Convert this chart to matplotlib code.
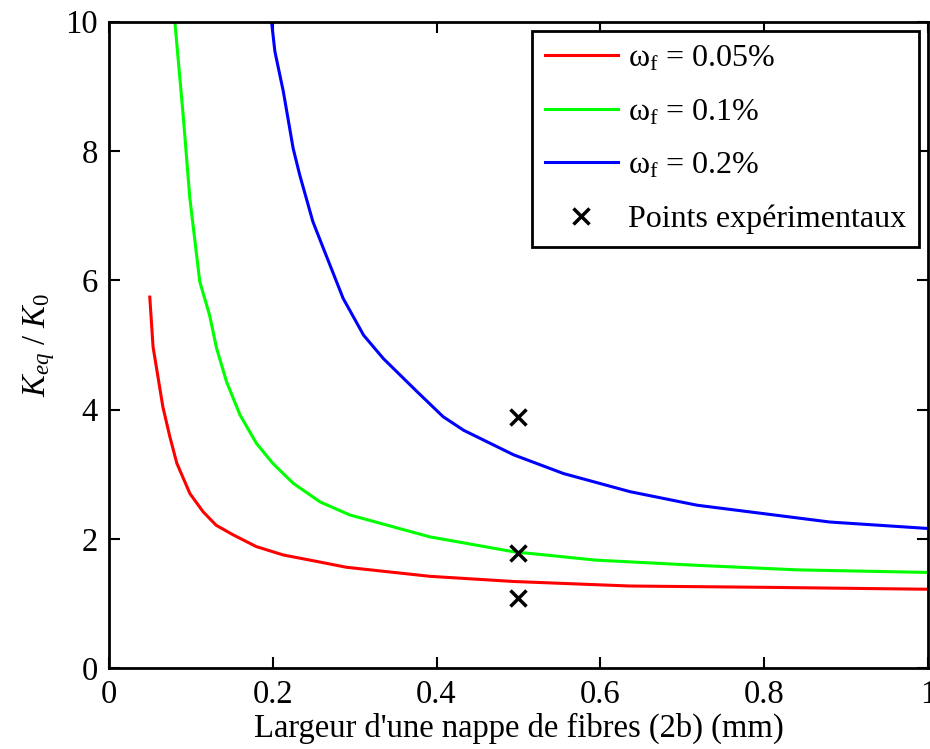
import matplotlib.pyplot as plt
import numpy as np

plt.rcParams['font.family'] = ['Liberation Serif', 'DejaVu Serif']
plt.rcParams['mathtext.fontset'] = 'custom'
plt.rcParams['mathtext.rm'] = 'Liberation Serif'
plt.rcParams['mathtext.it'] = 'Liberation Serif:italic'

# courbes
x_005 = [0.050, 0.054, 0.066, 0.0745, 0.083, 0.099, 0.115, 0.131, 0.152, 0.180,
         0.213, 0.254, 0.290, 0.392, 0.494, 0.636, 0.80, 1.0]
k_005 = [5.74, 4.97, 4.04, 3.58, 3.17, 2.70, 2.42, 2.21, 2.06, 1.88,
         1.75, 1.65, 1.56, 1.42, 1.34, 1.27, 1.25, 1.22]

x_01 = [0.0806, 0.0907, 0.0989, 0.111, 0.123, 0.1315, 0.1437, 0.160, 0.180,
        0.200, 0.225, 0.258, 0.294, 0.392, 0.494, 0.595, 0.718, 0.84, 1.0]
k_01 = [10.0, 8.56, 7.27, 5.98, 5.46, 4.95, 4.43, 3.92, 3.48,
        3.17, 2.86, 2.57, 2.37, 2.03, 1.80, 1.67, 1.59, 1.52, 1.48]

x_02 = [0.1986, 0.2027, 0.213, 0.225, 0.233, 0.249, 0.262, 0.286, 0.311, 0.335,
        0.376, 0.408, 0.433, 0.494, 0.555, 0.636, 0.718, 0.799, 0.880, 1.0]
k_02 = [10.0, 9.54, 8.92, 8.04, 7.63, 6.91, 6.49, 5.72, 5.15, 4.79,
        4.28, 3.89, 3.68, 3.30, 3.01, 2.73, 2.52, 2.39, 2.26, 2.16]

# points expérimentaux
x_exp = [0.5, 0.5, 0.5]
k_exp = [3.88, 1.78, 1.09]

fig = plt.figure(figsize=(9.3, 7.49), dpi=100)
ax = fig.add_axes([0.117, 0.108, 0.881, 0.863])

ax.plot(x_005, k_005, color='#ff0000', lw=2.2, label=r'$\mathrm{\omega_f}$ = 0.05%')
ax.plot(x_01, k_01, color='#00ff00', lw=2.2, label=r'$\mathrm{\omega_f}$ = 0.1%')
ax.plot(x_02, k_02, color='#0000ff', lw=2.2, label=r'$\mathrm{\omega_f}$ = 0.2%')
ax.plot(x_exp, k_exp, 'x', color='black', ms=11, mew=2.5, label='Points expérimentaux')

ax.set_xlim(0, 1)
ax.set_ylim(0, 10)
ax.set_xticks([0, 0.2, 0.4, 0.6, 0.8, 1])
ax.set_xticklabels(['0', '0.2', '0.4', '0.6', '0.8', '1'])
ax.set_yticks([0, 2, 4, 6, 8, 10])

ax.tick_params(direction='in', length=8, width=1.5, labelsize=23.5,
               top=True, right=True, pad=8)
for s in ax.spines.values():
    s.set_linewidth(2)

ax.set_xlabel("Largeur d'une nappe de fibres (2b) (mm)", fontsize=23.5, labelpad=2)
ax.set_ylabel(r'$K_{eq}\ /\ K_\mathrm{0}$', fontsize=23.5, labelpad=6)

leg = ax.legend(loc='upper right', fontsize=23, fancybox=False, framealpha=1,
                edgecolor='black', borderaxespad=0.3, handlelength=2.3,
                handletextpad=0.3, labelspacing=0.75, borderpad=0.4)
leg.get_frame().set_linewidth(2)

fig.savefig('out.png', dpi=100)
